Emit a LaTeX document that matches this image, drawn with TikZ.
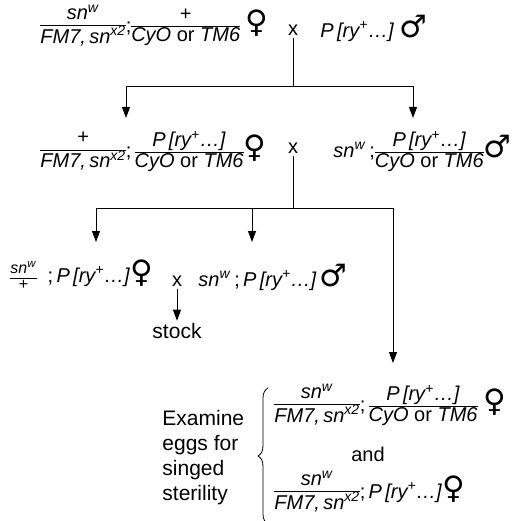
\documentclass[tikz,border=0pt]{standalone}
\usepackage{fontspec}
\setmainfont{Liberation Sans}
\newfontfamily\symfont{DejaVu Sans}
\usepackage{tikz}
\usetikzlibrary{arrows.meta,positioning,decorations.pathreplacing}
\renewcommand{\arraystretch}{0.8}
\setlength{\arrayrulewidth}{0.8pt}
\newcommand{\gen}[2]{\begin{tabular}{@{}c@{}}#1\\\hline #2\end{tabular}}
\newcommand{\snw}{\textit{sn}\textsuperscript{\textit{w}}}
\newcommand{\snxt}{\textit{sn}\textsuperscript{\textit{x2}}}
\newcommand{\fmsn}{\textit{FM7,\,}\snxt}
\newcommand{\cyo}{\textit{CyO} or \textit{TM6}}
\newcommand{\pry}{\textit{P\,[ry\textsuperscript{+}\ldots]}}
\newcommand{\fem}{{\symfont\fontsize{31}{31}\selectfont ♀}}
\newcommand{\mal}{{\symfont\fontsize{31}{31}\selectfont ♂}}

\begin{document}
\begin{tikzpicture}[x=1pt,y=-1pt,
  line width=0.9pt, >={Triangle[length=11pt,width=8pt]},
  gt/.style={anchor=west,inner sep=2pt,font=\fontsize{20}{24}\selectfont},
  crs/.style={inner sep=2pt,font=\fontsize{20}{22}\selectfont},
  txt/.style={inner sep=2pt,align=left,font=\fontsize{21}{25}\selectfont}
]
\useasboundingbox (0,0) rectangle (515,521);
% parents
\node[gt] (g1f) at (38,27) {\gen{\snw}{\fmsn};\gen{+}{\cyo}\ \fem};
\node[crs] (x1) at (293,30) {x};
\node[gt] (g1m) at (318,28) {\pry\ \mal};
\coordinate (j1) at (293,86);
\coordinate (t1a) at (126,118);
\coordinate (t1b) at (413,118);
\draw (x1) -- (j1);
\draw[->] (j1) -| (t1a);
\draw[->] (j1) -| (t1b);
% F1
\node[gt] (g2f) at (38,152) {\gen{+}{\fmsn};\,\gen{\pry}{\cyo}\fem};
\node[crs] (x2) at (293,148) {x};
\node[gt] (g2m) at (331,152) {\snw\,;\gen{\pry}{\cyo}\mal};
\coordinate (j2) at (293,208);
\coordinate (t2a) at (96,242);
\coordinate (t2b) at (252,242);
\coordinate (t2c) at (393,363);
\draw (x2) -- (j2);
\draw[->] (j2) -| (t2a);
\draw[->] (j2) -| (t2b);
\draw[->] (j2) -| (t2c);
% F2 stock
\node[gt] (g3f) at (8,277) {{\fontsize{16}{19}\selectfont\gen{\snw}{+}}\ \ ;\,\pry\fem};
\node[crs] (x3) at (177,281) {x};
\node[gt] (g3m) at (196,277) {\snw\,;\,\pry\,\mal};
\node[txt,below=32pt of x3] (stock) {stock};
\draw[->] (x3) -- (stock);
% test cross
\node[txt,anchor=west] (exam) at (160,458) {Examine\\eggs for\\singed\\sterility};
\coordinate (br1) at (268,524);
\coordinate (br2) at (268,388);
\draw[line width=0.8pt,decorate,decoration={brace,amplitude=10pt}] (br1) -- (br2);
\node[gt] (b1) at (272,406) {\gen{\snw}{\fmsn};\,\gen{\pry}{\cyo}\ \fem};
\node[txt,font=\fontsize{20}{24}\selectfont] (andtxt) at (368,454) {and};
\node[gt] (b2) at (272,493) {\gen{\snw}{\fmsn};\,\pry\fem};
\end{tikzpicture}
\end{document}
